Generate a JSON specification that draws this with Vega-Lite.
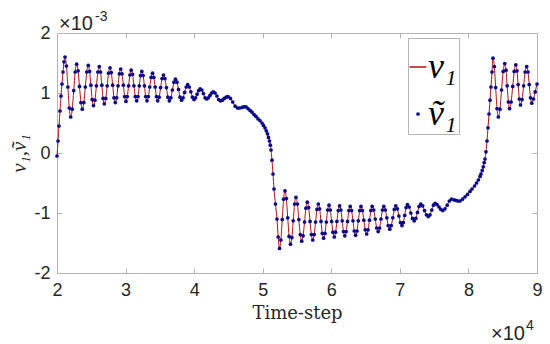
{
"$schema": "https://vega.github.io/schema/vega-lite/v6.json",
"width": 480, "height": 240,
"autosize": {"type": "none"},
"padding": {"left": 57, "top": 33, "right": 13, "bottom": 71},
"background": "white",
"data": {"values": [
{"t":20000,"v":-0.00005},{"t":20150,"v":0.0002},{"t":20290,"v":0.00045},{"t":20440,"v":0.0007},{"t":20580,"v":0.00095},{"t":20730,"v":0.00115},{"t":20880,"v":0.00135},{"t":21020,"v":0.00152},
{"t":21170,"v":0.0016},{"t":21380,"v":0.00145},{"t":21590,"v":0.0011},{"t":21790,"v":0.00075},
{"t":22000,"v":0.0006},{"t":22220,"v":0.00073},{"t":22440,"v":0.00104},{"t":22650,"v":0.00135},
{"t":22870,"v":0.00148},{"t":23080,"v":0.00137},{"t":23280,"v":0.00111},{"t":23490,"v":0.00084},
{"t":23690,"v":0.00073},{"t":23910,"v":0.00084},{"t":24130,"v":0.0011},{"t":24340,"v":0.00135},
{"t":24560,"v":0.00146},{"t":24750,"v":0.00136},{"t":24940,"v":0.00113},{"t":25130,"v":0.00089},
{"t":25320,"v":0.00079},{"t":25530,"v":0.00088},{"t":25750,"v":0.00112},{"t":25960,"v":0.00135},
{"t":26170,"v":0.00144},{"t":26350,"v":0.00135},{"t":26540,"v":0.00113},{"t":26720,"v":0.00091},
{"t":26900,"v":0.00082},{"t":27110,"v":0.00091},{"t":27320,"v":0.00112},{"t":27520,"v":0.00133},
{"t":27730,"v":0.00142},{"t":27920,"v":0.00134},{"t":28120,"v":0.00113},{"t":28310,"v":0.00092},
{"t":28500,"v":0.00084},{"t":28700,"v":0.00092},{"t":28900,"v":0.00112},{"t":29090,"v":0.00132},
{"t":29290,"v":0.0014},{"t":29480,"v":0.00132},{"t":29680,"v":0.00113},{"t":29870,"v":0.00094},
{"t":30060,"v":0.00086},{"t":30250,"v":0.00094},{"t":30440,"v":0.00112},{"t":30630,"v":0.0013},
{"t":30820,"v":0.00138},{"t":31020,"v":0.00131},{"t":31220,"v":0.00112},{"t":31420,"v":0.00094},
{"t":31620,"v":0.00087},{"t":31810,"v":0.00094},{"t":32000,"v":0.00112},{"t":32180,"v":0.00129},
{"t":32370,"v":0.00136},{"t":32560,"v":0.00129},{"t":32750,"v":0.00112},{"t":32930,"v":0.00094},
{"t":33120,"v":0.00087},{"t":33320,"v":0.00094},{"t":33530,"v":0.0011},{"t":33730,"v":0.00126},
{"t":33930,"v":0.00133},{"t":34120,"v":0.00126},{"t":34310,"v":0.0011},{"t":34500,"v":0.00094},
{"t":34690,"v":0.00087},{"t":34900,"v":0.00093},{"t":35110,"v":0.00109},{"t":35320,"v":0.00124},
{"t":35530,"v":0.0013},{"t":35740,"v":0.00124},{"t":35960,"v":0.00109},{"t":36170,"v":0.00093},
{"t":36380,"v":0.00087},{"t":36610,"v":0.00092},{"t":36830,"v":0.00105},{"t":37060,"v":0.00118},
{"t":37280,"v":0.00123},{"t":37500,"v":0.00118},{"t":37720,"v":0.00106},{"t":37940,"v":0.00093},
{"t":38160,"v":0.00088},{"t":38390,"v":0.00092},{"t":38610,"v":0.00101},{"t":38840,"v":0.0011},
{"t":39060,"v":0.00114},{"t":39290,"v":0.0011},{"t":39520,"v":0.00102},{"t":39750,"v":0.00093},
{"t":39980,"v":0.00089},{"t":40210,"v":0.00092},{"t":40430,"v":0.00098},{"t":40660,"v":0.00104},
{"t":40880,"v":0.00107},{"t":41120,"v":0.00105},{"t":41360,"v":0.00099},{"t":41590,"v":0.00092},
{"t":41830,"v":0.0009},{"t":42070,"v":0.00092},{"t":42310,"v":0.00096},{"t":42550,"v":0.001},
{"t":42790,"v":0.00102},{"t":43050,"v":0.001},{"t":43320,"v":0.00095},{"t":43580,"v":0.00089},
{"t":43840,"v":0.00087},{"t":44120,"v":0.00088},{"t":44390,"v":0.00091},{"t":44670,"v":0.00093},
{"t":44940,"v":0.00094},{"t":45290,"v":0.00091},{"t":45630,"v":0.00085},{"t":45980,"v":0.00078},
{"t":46320,"v":0.00075},{"t":46610,"v":0.00075},{"t":46980,"v":0.00076},{"t":47270,"v":0.00077},{"t":47560,"v":0.00077},{"t":47850,"v":0.00074},{"t":48150,"v":0.00071},
{"t":48440,"v":0.00068},{"t":48730,"v":0.00064},{"t":49020,"v":0.00061},{"t":49310,"v":0.00057},{"t":49600,"v":0.00054},{"t":49900,"v":0.0005},
{"t":50110,"v":0.00046},{"t":50330,"v":0.00042},{"t":50520,"v":0.00037},{"t":50700,"v":0.00032},{"t":50840,"v":0.00026},{"t":50990,"v":0.0002},
{"t":51110,"v":0.00013},{"t":51210,"v":0.00005},{"t":51350,"v":-0.00012},{"t":51500,"v":-0.00035},{"t":51650,"v":-0.0006},{"t":51860,"v":-0.00085},
{"t":52080,"v":-0.0011},{"t":52260,"v":-0.0014},
{"t":52450,"v":-0.00159},{"t":52650,"v":-0.00145},{"t":52850,"v":-0.00111},{"t":53050,"v":-0.00077},
{"t":53250,"v":-0.00063},{"t":53450,"v":-0.00076},{"t":53650,"v":-0.00108},{"t":53850,"v":-0.00139},
{"t":54050,"v":-0.00152},{"t":54250,"v":-0.00141},{"t":54450,"v":-0.00113},{"t":54650,"v":-0.00085},
{"t":54850,"v":-0.00074},{"t":55060,"v":-0.00085},{"t":55270,"v":-0.00111},{"t":55480,"v":-0.00136},
{"t":55690,"v":-0.00147},{"t":55890,"v":-0.00138},{"t":56100,"v":-0.00115},{"t":56300,"v":-0.00092},
{"t":56500,"v":-0.00082},{"t":56700,"v":-0.00091},{"t":56900,"v":-0.00114},{"t":57100,"v":-0.00136},
{"t":57300,"v":-0.00145},{"t":57500,"v":-0.00136},{"t":57710,"v":-0.00115},{"t":57910,"v":-0.00094},
{"t":58110,"v":-0.00085},{"t":58300,"v":-0.00093},{"t":58500,"v":-0.00114},{"t":58690,"v":-0.00134},
{"t":58880,"v":-0.00142},{"t":59080,"v":-0.00134},{"t":59280,"v":-0.00115},{"t":59470,"v":-0.00095},
{"t":59670,"v":-0.00087},{"t":59860,"v":-0.00095},{"t":60050,"v":-0.00114},{"t":60240,"v":-0.00132},
{"t":60430,"v":-0.0014},{"t":60630,"v":-0.00132},{"t":60820,"v":-0.00114},{"t":61020,"v":-0.00096},
{"t":61210,"v":-0.00088},{"t":61400,"v":-0.00095},{"t":61590,"v":-0.00113},{"t":61780,"v":-0.00131},
{"t":61970,"v":-0.00138},{"t":62170,"v":-0.00131},{"t":62370,"v":-0.00114},{"t":62560,"v":-0.00096},
{"t":62760,"v":-0.00089},{"t":62960,"v":-0.00096},{"t":63160,"v":-0.00113},{"t":63350,"v":-0.0013},
{"t":63550,"v":-0.00137},{"t":63750,"v":-0.0013},{"t":63940,"v":-0.00113},{"t":64140,"v":-0.00096},
{"t":64330,"v":-0.00089},{"t":64540,"v":-0.00096},{"t":64750,"v":-0.00112},{"t":64950,"v":-0.00128},
{"t":65160,"v":-0.00135},{"t":65360,"v":-0.00128},{"t":65570,"v":-0.00112},{"t":65770,"v":-0.00096},
{"t":65970,"v":-0.00089},{"t":66190,"v":-0.00095},{"t":66410,"v":-0.0011},{"t":66620,"v":-0.00125},
{"t":66840,"v":-0.00131},{"t":67050,"v":-0.00125},{"t":67250,"v":-0.0011},{"t":67460,"v":-0.00095},
{"t":67660,"v":-0.00089},{"t":67880,"v":-0.00095},{"t":68100,"v":-0.00108},{"t":68310,"v":-0.00121},
{"t":68530,"v":-0.00127},{"t":68750,"v":-0.00121},{"t":68970,"v":-0.00108},{"t":69190,"v":-0.00094},
{"t":69410,"v":-0.00088},{"t":69640,"v":-0.00093},{"t":69860,"v":-0.00105},{"t":70090,"v":-0.00116},
{"t":70310,"v":-0.00121},{"t":70510,"v":-0.00116},{"t":70710,"v":-0.00104},{"t":70910,"v":-0.00091},
{"t":71110,"v":-0.00086},{"t":71360,"v":-0.0009},{"t":71600,"v":-0.001},{"t":71850,"v":-0.00109},
{"t":72090,"v":-0.00113},{"t":72330,"v":-0.00109},{"t":72570,"v":-0.00099},{"t":72810,"v":-0.00089},
{"t":73050,"v":-0.00085},{"t":73330,"v":-0.00088},{"t":73600,"v":-0.00096},{"t":73880,"v":-0.00103},
{"t":74150,"v":-0.00106},{"t":74400,"v":-0.00103},{"t":74650,"v":-0.00095},{"t":74900,"v":-0.00087},
{"t":75150,"v":-0.00084},{"t":75430,"v":-0.00086},{"t":75710,"v":-0.0009},{"t":75980,"v":-0.00094},
{"t":76260,"v":-0.00096},{"t":76580,"v":-0.00093},{"t":76900,"v":-0.00087},{"t":77210,"v":-0.0008},
{"t":77530,"v":-0.00077},{"t":77900,"v":-0.00078},{"t":78190,"v":-0.00079},{"t":78480,"v":-0.0008},{"t":78770,"v":-0.0008},{"t":79130,"v":-0.00077},{"t":79500,"v":-0.00073},
{"t":79860,"v":-0.00069},{"t":80230,"v":-0.00064},{"t":80520,"v":-0.0006},{"t":80890,"v":-0.00055},{"t":81180,"v":-0.0005},{"t":81440,"v":-0.00045},
{"t":81690,"v":-0.00039},{"t":81830,"v":-0.00035},{"t":82010,"v":-0.00029},{"t":82170,"v":-0.00023},{"t":82300,"v":-0.00016},{"t":82420,"v":-0.0001},
{"t":82560,"v":0.00002},{"t":82710,"v":0.0002},{"t":82850,"v":0.00042},{"t":83000,"v":0.00065},{"t":83150,"v":0.00088},{"t":83290,"v":0.0011},
{"t":83440,"v":0.00135},
{"t":83580,"v":0.00158},{"t":83780,"v":0.00144},{"t":83970,"v":0.00109},{"t":84170,"v":0.00074},
{"t":84360,"v":0.0006},{"t":84600,"v":0.00073},{"t":84830,"v":0.00105},{"t":85070,"v":0.00136},
{"t":85300,"v":0.00149},{"t":85480,"v":0.00138},{"t":85650,"v":0.00112},{"t":85830,"v":0.00085},
{"t":86000,"v":0.00074},{"t":86230,"v":0.00085},{"t":86460,"v":0.00111},{"t":86680,"v":0.00136},
{"t":86910,"v":0.00147},{"t":87080,"v":0.00137},{"t":87250,"v":0.00114},{"t":87420,"v":0.0009},
{"t":87590,"v":0.0008},{"t":87820,"v":0.00089},{"t":88050,"v":0.00112},{"t":88270,"v":0.00135},
{"t":88500,"v":0.00144},{"t":88690,"v":0.00135},{"t":88870,"v":0.00114},{"t":89060,"v":0.00092},
{"t":89240,"v":0.00083},{"t":89490,"v":0.0009},{"t":89740,"v":0.00102},{"t":90000,"v":0.00115}
]},
"layer": [
{"mark": {"type": "line", "strokeWidth": 1, "interpolate": "monotone"},
 "encoding": {
  "x": {"field": "t", "type": "quantitative", "scale": {"domain": [20000, 90000], "nice": false, "zero": false},
    "axis": {"orient": "bottom", "values": [20000,30000,40000,50000,60000,70000,80000,90000], "labelExpr": "'' + round(datum.value/10000)", "title": "Time-step", "titleFont": "DejaVu Serif", "titleFontSize": 18, "titleFontWeight": "normal", "titleColor": "#262626", "titlePadding": 5, "labelFont": "Liberation Sans", "labelFontSize": 18, "labelColor": "#262626", "tickSize": -5, "labelPadding": 13, "labelFlush": false, "labelOverlap": false}},
  "y": {"field": "v", "type": "quantitative", "scale": {"domain": [-0.002, 0.002], "nice": false, "zero": false},
    "axis": {"orient": "left", "values": [-0.002,-0.001,0,0.001,0.002], "labelExpr": "'' + round(datum.value*1000)", "title": "v₁,ṽ₁", "titleFont": "Liberation Serif", "titleFontStyle": "italic", "titleFontSize": 21, "titleFontWeight": "normal", "titleColor": "#262626", "titlePadding": 4, "labelFont": "Liberation Sans", "labelFontSize": 18, "labelColor": "#262626", "tickSize": -5, "labelPadding": 12, "labelFlush": false, "labelOverlap": false}},
  "color": {"datum": "v₁", "type": "nominal", "scale": {"domain": ["v₁", "ṽ₁"], "range": ["#b01010", "#0a0a8c"]},
    "legend": {"orient": "none", "legendX": 351, "legendY": 5, "title": " ", "titleFontSize": 8, "titlePadding": 1, "labelFont": "Liberation Serif", "labelFontStyle": "italic", "labelFontSize": 36, "labelColor": "#000000", "strokeColor": "#b4b4b4", "fillColor": "white", "padding": 2, "rowPadding": 11, "labelOffset": -8, "symbolOffset": -10, "symbolSize": 100, "symbolStrokeWidth": 1.5,
      "encode": {"symbols": {"update": {
        "shape": {"signal": "datum.value === 'v₁' ? 'stroke' : 'circle'"},
        "size": {"signal": "datum.value === 'v₁' ? 289 : 14"},
        "stroke": {"signal": "datum.value === 'v₁' ? '#b01010' : '#0a0a8c'"},
        "fill": {"signal": "datum.value === 'v₁' ? 'transparent' : '#0a0a8c'"},
        "strokeWidth": {"signal": "datum.value === 'v₁' ? 1.5 : 0"},
        "opacity": {"value": 1}}}}}}
 }},
{"mark": {"type": "point", "filled": true, "size": 14, "opacity": 1},
 "encoding": {
  "x": {"field": "t", "type": "quantitative", "axis": {"orient": "top", "values": [20000,30000,40000,50000,60000,70000,80000,90000], "labels": false, "title": null, "tickSize": -5}},
  "y": {"field": "v", "type": "quantitative", "axis": {"orient": "right", "values": [-0.002,-0.001,0,0.001,0.002], "labels": false, "title": null, "tickSize": -5}},
  "color": {"datum": "ṽ₁", "type": "nominal"}
 }},
{"data": {"values": [{}]},
 "mark": {"type": "text", "text": "×10", "align": "left", "baseline": "alphabetic", "font": "Liberation Sans", "fontSize": 20, "color": "#262626", "dx": 2, "dy": -3},
 "encoding": {"x": {"datum": 20000, "type": "quantitative", "axis": null}, "y": {"datum": 0.002, "type": "quantitative", "axis": null}}},
{"data": {"values": [{}]},
 "mark": {"type": "text", "text": "-3", "align": "left", "baseline": "alphabetic", "font": "Liberation Sans", "fontSize": 14, "color": "#262626", "dx": 38, "dy": -12},
 "encoding": {"x": {"datum": 20000, "type": "quantitative", "axis": null}, "y": {"datum": 0.002, "type": "quantitative", "axis": null}}},
{"data": {"values": [{}]},
 "mark": {"type": "text", "text": "×10", "align": "right", "baseline": "alphabetic", "font": "Liberation Sans", "fontSize": 20, "color": "#262626", "dx": -12, "dy": 67},
 "encoding": {"x": {"datum": 90000, "type": "quantitative", "axis": null}, "y": {"datum": -0.002, "type": "quantitative", "axis": null}}},
{"data": {"values": [{}]},
 "mark": {"type": "text", "text": "4", "align": "left", "baseline": "alphabetic", "font": "Liberation Sans", "fontSize": 14, "color": "#262626", "dx": -11, "dy": 57},
 "encoding": {"x": {"datum": 90000, "type": "quantitative", "axis": null}, "y": {"datum": -0.002, "type": "quantitative", "axis": null}}}
],
"resolve": {"axis": {"x": "independent", "y": "independent"}},
"config": {"view": {"stroke": "#b4b4b4"}, "axis": {"grid": false, "domainColor": "#b4b4b4", "tickColor": "#b4b4b4"}}
}
